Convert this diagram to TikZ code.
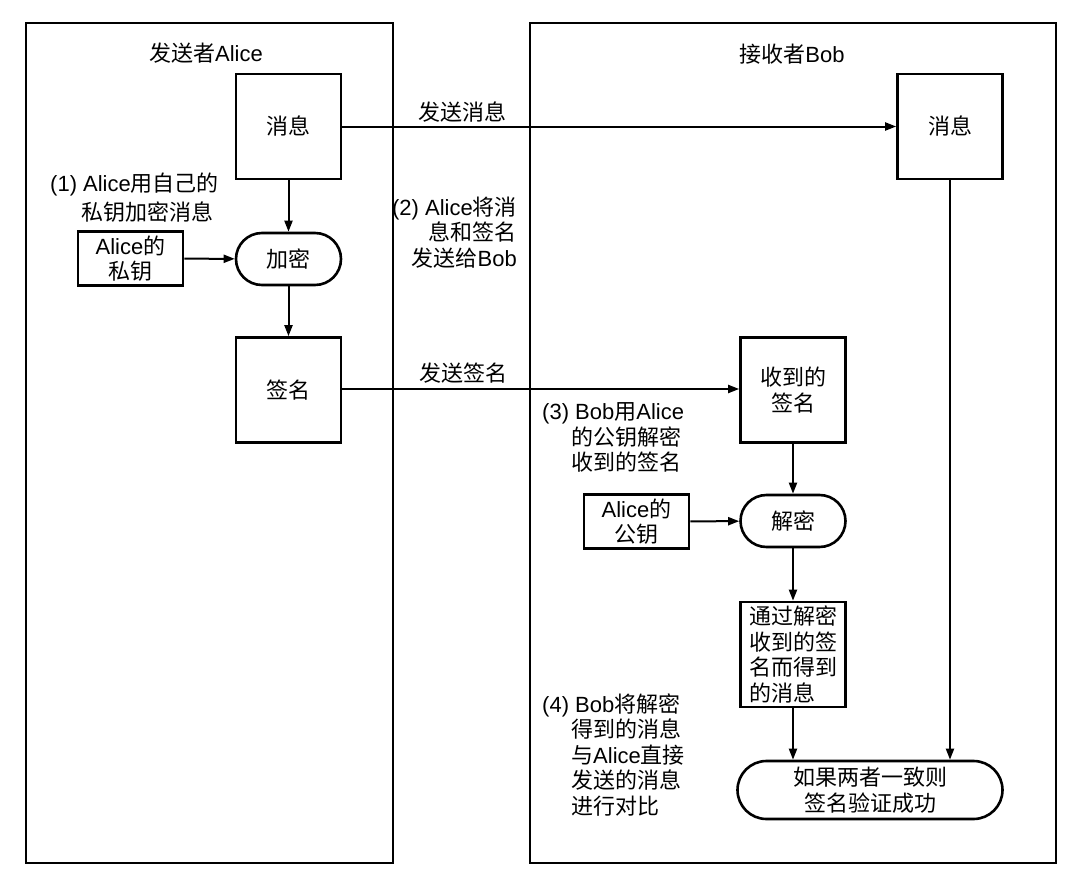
\documentclass[tikz,border=0pt]{standalone}
\usepackage{fontspec}
\setmainfont{Liberation Sans}
\newfontfamily\zhfont{Noto Sans CJK SC}
\newcommand\zhs[1]{{\zhfont#1}}
\usetikzlibrary{arrows.meta}
\begin{document}
\begin{tikzpicture}[x=1pt,y=-1pt,
  every node/.style={font=\fontsize{22}{25.5}\selectfont, inner sep=0pt},
  panel/.style={draw, line width=2.8pt},
  bigbox/.style={draw, line width=2.6pt, minimum width=105pt, minimum height=105pt, align=center},
  keybox/.style={draw, line width=2.6pt, minimum width=105pt, minimum height=54pt, align=center},
  pill/.style={draw, line width=2.6pt, minimum width=105pt, minimum height=52pt, rounded corners=26pt, align=center},
  bigpill/.style={draw, line width=2.6pt, minimum width=265pt, minimum height=58pt, rounded corners=29pt, align=center},
  conn/.style={line width=2pt, -{Triangle[length=11pt,width=8pt]}},
  plain/.style={line width=2pt}
]
\useasboundingbox (0,0) rectangle (1080,886);
\fill[white] (0,0) rectangle (1080,886);

% panels
\node[panel, minimum width=367pt, minimum height=840pt] (leftpanel) at (209.5,443) {};
\node[panel, minimum width=526pt, minimum height=840pt] (rightpanel) at (793,443) {};

\node (titleA) at (206,53) {\zhs{发送者}Alice};
\node (titleB) at (792,54) {\zhs{接收者}Bob};

% sender side
\node[bigbox] (msgA) at (288.5,126.5) {\zhs{消息}};
\node[pill] (enc) at (288.5,259) {\zhs{加密}};
\node[keybox] (keyA) at (130.5,258.5) {Alice\zhs{的}\\\zhs{私钥}};
\node[bigbox] (sigA) at (288.5,390) {\zhs{签名}};

% receiver side
\node[bigbox] (msgB) at (950,126.5) {\zhs{消息}};
\node[bigbox] (sigB) at (793,390) {\zhs{收到的}\\\zhs{签名}};
\node[pill] (dec) at (793,521) {\zhs{解密}};
\node[keybox] (keyB) at (636.5,521.5) {Alice\zhs{的}\\\zhs{公钥}};
\node[bigbox, align=left, text width=88pt] (dmsg) at (793,654.5) {\zhs{通过解密}\\\zhs{收到的签}\\\zhs{名而得到}\\\zhs{的消息}};
\node[bigpill] (final) at (870,790) {\zhs{如果两者一致则}\\\zhs{签名验证成功}};

% labels
\node[align=left, anchor=west, font=\fontsize{22}{29}\selectfont] (lab1) at (50,197.5)
  {(1) Alice\zhs{用自己的}\\\hspace*{31pt}\zhs{私钥加密消息}};
\node[align=right, anchor=east] (lab2) at (517,232.5)
  {(2) Alice\zhs{将消}\\\zhs{息和签名}\\\zhs{发送给}Bob};
\node[align=left, anchor=west] (lab3) at (542,437.5)
  {(3) Bob\zhs{用}Alice\\\hspace*{29pt}\zhs{的公钥解密}\\\hspace*{29pt}\zhs{收到的签名}};
\node[align=left, anchor=west] (lab4) at (542,755)
  {(4) Bob\zhs{将解密}\\\hspace*{29pt}\zhs{得到的消息}\\\hspace*{29pt}\zhs{与}Alice\zhs{直接}\\\hspace*{29pt}\zhs{发送的消息}\\\hspace*{29pt}\zhs{进行对比}};
\node (send1) at (462,112) {\zhs{发送消息}};
\node (send2) at (463,373) {\zhs{发送签名}};

% connectors
\draw[conn] (msgA) -- (msgB);
\draw[conn] (sigA.east |- 0,389) -- (sigB.west |- 0,389);
\draw[conn] (msgA) -- (enc);
\draw[conn] (enc) -- (sigA);
\draw[conn] (keyA) -- (enc);
\draw[conn] (sigB) -- (dec);
\draw[conn] (keyB) -- (dec);
\draw[conn] (dec) -- (dmsg);
\draw[conn] (dmsg.south) -- (dmsg.south |- final.north);
\draw[conn] (msgB.south) -- (msgB.south |- final.north);
\end{tikzpicture}
\end{document}
